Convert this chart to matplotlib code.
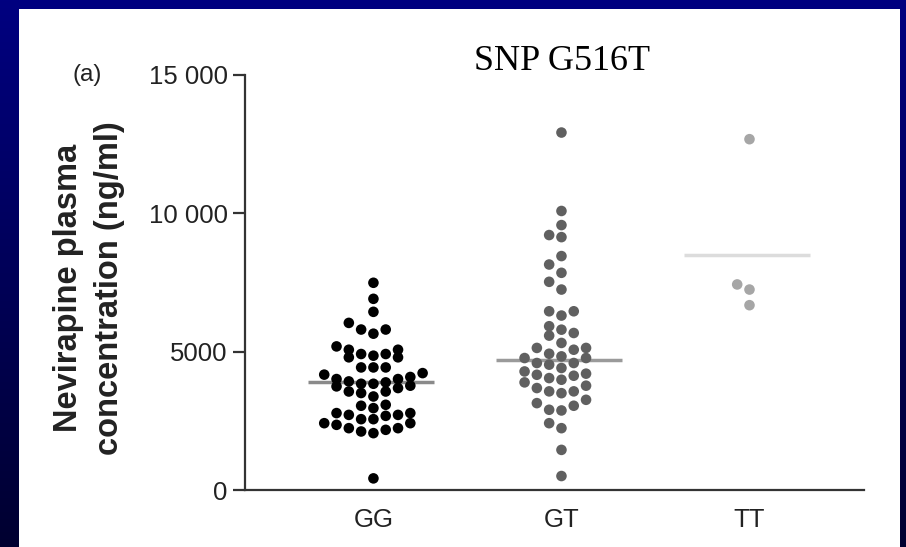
import numpy as np
import matplotlib
matplotlib.use("Agg")
import matplotlib.pyplot as plt
from matplotlib.patches import Rectangle

# ---------------- data ----------------
categories = ["GG", "GT", "TT"]
gg_values = [7490, 6910, 6440, 6040, 5800, 5650, 5800, 5070, 4915, 4855, 4795, 4795,
             4915, 5070, 5190, 4430, 4430, 4430, 4170, 4085, 4225, 4010, 3840, 3925,
             3745, 3890, 3770, 3840, 4010, 3560, 3685, 3505, 3560, 3380, 3045, 2960,
             3080, 2780, 2715, 2715, 2560, 2560, 2680, 2780, 2415, 2355, 2235, 2115,
             2055, 2175, 2235, 2415, 420]
gt_values = [12920, 10085, 9575, 9215, 9140, 8455, 8150, 7850, 7525, 7245, 6460, 6305,
             6460, 5795, 5580, 5675, 5920, 5315, 5135, 5070, 5135, 4925, 4770, 4770,
             4830, 4590, 4590, 4530, 4410, 4205, 4165, 4045, 4130, 4285, 3985, 3890,
             3770, 3565, 3500, 3565, 3685, 3260, 3140, 2900, 2875, 3045, 2235, 2415,
             1450, 505]
tt_values = [12680, 7430, 7245, 6680]
group_lines = [3900, 4710, 8480]
ytick_values = [0, 5000, 10000, 15000]
ytick_labels = ["0", "5000", "10 000", "15 000"]
title = "SNP G516T"
panel_label = "(a)"
ylabel = "Nevirapine plasma\nconcentration (ng/ml)"

dot_colors = ["#000000", "#606060", "#a6a6a6"]
line_colors = ["#8a8a8a", "#9a9a9a", "#dcdcdc"]

W, H = 906, 547
fig = plt.figure(figsize=(W / 100, H / 100), dpi=100)

# background gradient + white panel
bg = fig.add_axes([0, 0, 1, 1], zorder=-10)
grad = np.linspace(0, 1, 256)[:, None]
top = np.array([0, 0, 128]) / 255
bot = np.array([0, 0, 48]) / 255
img = top[None, None, :] * (1 - grad[:, :, None]) + bot[None, None, :] * grad[:, :, None]
bg.imshow(img, aspect="auto", extent=[0, 1, 0, 1], origin="upper")
bg.add_patch(Rectangle((19 / W, 0), (900 - 19) / W, (H - 9) / H, transform=bg.transAxes,
                       facecolor="white", edgecolor="none"))
bg.set_xlim(0, 1)
bg.set_ylim(0, 1)
bg.axis("off")

ax = fig.add_axes([245 / W, (H - 490) / H, (864 - 245) / W, (490 - 75) / H])
ax.patch.set_alpha(0)


def binned_offsets(vals, binh, step):
    vals = np.asarray(vals, dtype=float)
    order = np.argsort(vals)
    offs = np.zeros(len(vals))
    i = 0
    while i < len(order):
        start = vals[order[i]]
        members = []
        while i < len(order) and vals[order[i]] - start < binh:
            members.append(order[i])
            i += 1
        for k, idx in enumerate(members):
            n = (k + 1) // 2
            offs[idx] = (-n if k % 2 == 1 else n) * step
    return offs


groups = [gg_values, gt_values, tt_values]
step = 0.0654
for gi, vals in enumerate(groups):
    offs = binned_offsets(vals, 400, step)
    ax.scatter(gi + offs, vals, s=58, color=dot_colors[gi], edgecolors="none", zorder=3)
    ax.plot([gi - 0.35, gi + 0.32], [group_lines[gi]] * 2, color=line_colors[gi], lw=2.5,
            solid_capstyle="butt", zorder=2)

ax.set_xlim(-0.683, 2.609)
ax.set_ylim(0, 15000)
for s in ["top", "right"]:
    ax.spines[s].set_visible(False)
for s in ["left", "bottom"]:
    ax.spines[s].set_color("#333333")
    ax.spines[s].set_linewidth(1.6)
ax.spines["left"].set_bounds(0, 15000)

ax.set_yticks(ytick_values)
ax.set_yticklabels(ytick_labels, fontfamily="Liberation Sans", fontsize=18.5, color="#222222")
ax.tick_params(axis="y", length=8.5, width=1.6, color="#333333", pad=4)
ax.set_xticks(range(len(categories)))
ax.set_xticklabels(categories, fontfamily="Liberation Sans", fontsize=18.5, color="#222222")
ax.tick_params(axis="x", length=0, pad=13)

fig.text(562 / W, 1 - 70 / H, title, fontfamily="Liberation Serif", fontsize=26,
         ha="center", va="baseline", color="black")
fig.text(87 / W, 1 - 75 / H, panel_label, fontfamily="Liberation Sans", fontsize=17.5,
         ha="center", va="center", color="#222222")
fig.text(89 / W, 1 - 288 / H, ylabel, fontfamily="Liberation Sans", fontweight="bold",
         fontsize=23.5, rotation=90, ha="center", va="center", multialignment="center",
         linespacing=1.4, color="#222222")

fig.savefig("out.png", dpi=100)
